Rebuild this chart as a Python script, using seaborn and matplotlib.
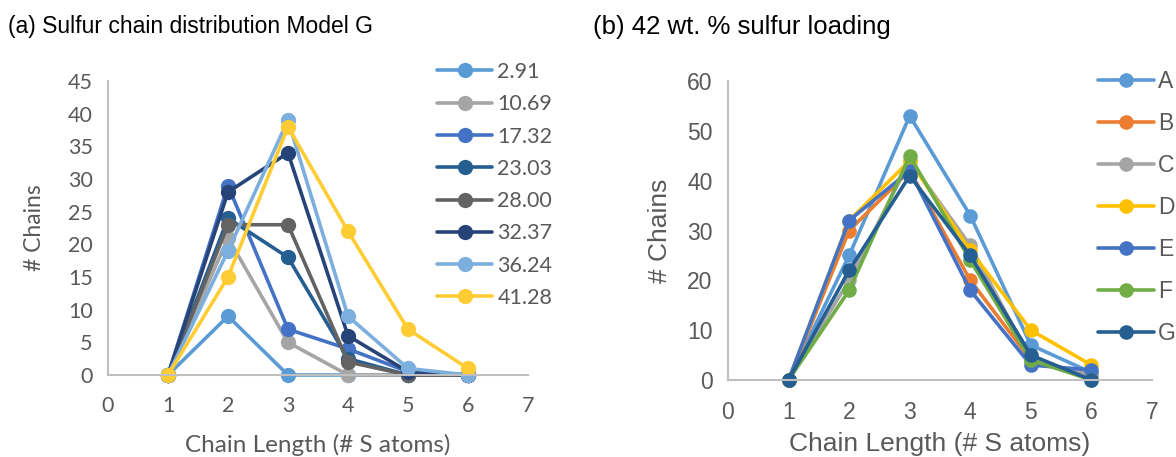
import matplotlib
matplotlib.use("Agg")
import matplotlib.pyplot as plt
import seaborn as sns
import pandas as pd

# ---------------- data ----------------
chain_length = [1, 2, 3, 4, 5, 6]

left_labels = ["2.91", "10.69", "17.32", "23.03", "28.00", "32.37", "36.24", "41.28"]
s_291 = [0, 9, 0, 0, 0, 0]
s_1069 = [0, 21, 5, 0, 0, 0]
s_1732 = [0, 29, 7, 4, 0.5, 0]
s_2303 = [0, 24, 18, 2.5, 0, 0]
s_2800 = [0, 23, 23, 2, 0, 0]
s_3237 = [0, 28, 34, 6, 0.5, 0]
s_3624 = [0, 19, 39, 9, 1, 0]
s_4128 = [0, 15, 38, 22, 7, 1]
left_values = [s_291, s_1069, s_1732, s_2303, s_2800, s_3237, s_3624, s_4128]
left_colors = ["#5B9BD5", "#A5A5A5", "#4472C4", "#255E91", "#636363",
               "#264478", "#7CAFDD", "#FFCD33"]

right_labels = ["A", "B", "C", "D", "E", "F", "G"]
m_A = [0, 25, 53, 33, 7, 1.5]
m_B = [0, 30, 42, 20, 4, 1]
m_C = [0, 20, 44, 27, 4, 1]
m_D = [0, 32, 44, 26, 10, 3]
m_E = [0, 32, 42, 18, 3, 2]
m_F = [0, 18, 45, 24, 4, 0]
m_G = [0, 22, 41, 25, 5, 0]
right_values = [m_A, m_B, m_C, m_D, m_E, m_F, m_G]
right_colors = ["#5B9BD5", "#ED7D31", "#A5A5A5", "#FFC000", "#4472C4", "#70AD47", "#255E91"]


def long_df(labels, values):
    rows = []
    for lab, vals in zip(labels, values):
        for x, y in zip(chain_length, vals):
            rows.append({"Chain": x, "Count": y, "Series": lab})
    return pd.DataFrame(rows)


df_left = long_df(left_labels, left_values)
df_right = long_df(right_labels, right_values)

sns.set_theme(style="white")
W, H = 1176, 457
fig = plt.figure(figsize=(W / 100, H / 100), dpi=100)


def px_axes(x0, y_top, x1, y_bot):
    return fig.add_axes([x0 / W, (H - y_bot) / H, (x1 - x0) / W, (y_bot - y_top) / H])


axL = px_axes(108, 81, 528, 375)
axR = px_axes(728, 81, 1152, 380)

tick_col = "#595959"
spine_col = "#BFBFBF"

configs = [
    (axL, df_left, left_labels, left_colors, 45, 5, "Lato", 15.5, 17.5, 16.5,
     -0.238, -0.174, 11),
    (axR, df_right, right_labels, right_colors, 60, 10, "Liberation Sans", 16.5, 19, 19,
     -0.215, -0.160, 10.5),
]

for (ax, df, labels, colors, ymax, ystep, fam, tfs, xlfs, ylfs,
     xly, ylx, ms) in configs:
    sns.lineplot(data=df, x="Chain", y="Count", hue="Series", hue_order=labels,
                 palette=colors, marker="o", markersize=ms, markeredgewidth=0,
                 linewidth=2.6, estimator=None, sort=False, ax=ax, legend=True)
    for ln in ax.get_lines():
        ln.set_clip_on(False)
    ax.set_xlim(0, 7)
    ax.set_ylim(0, ymax)
    ax.set_xticks(range(0, 8))
    ax.set_yticks(range(0, ymax + 1, ystep))
    for s in ["top", "right"]:
        ax.spines[s].set_visible(False)
    for s in ["left", "bottom"]:
        ax.spines[s].set_color(spine_col)
        ax.spines[s].set_linewidth(1.5)
    ax.tick_params(axis="both", direction="out", length=5, width=1.2, color=spine_col,
                   labelcolor=tick_col, labelsize=tfs, pad=6)
    ax.tick_params(axis="x", pad=10)
    for t in ax.get_xticklabels() + ax.get_yticklabels():
        t.set_fontfamily(fam)
    ax.set_xlabel("Chain Length (# S atoms)")
    ax.set_ylabel("# Chains")
    for lab, size in [(ax.xaxis.label, xlfs), (ax.yaxis.label, ylfs)]:
        lab.set_fontfamily(fam)
        lab.set_fontsize(size)
        lab.set_color(tick_col)
        lab.set_va("center")
    ax.xaxis.set_label_coords(0.5, xly)
    ax.yaxis.set_label_coords(ylx, 0.5)
    ax.get_legend().remove()

# legends
hL, lL = axL.get_legend_handles_labels()
fig.legend(hL, lL, loc="upper left", bbox_to_anchor=(437 / W, 1 - 62 / H),
           frameon=False, prop={"family": "Lato", "size": 15.5},
           labelcolor=tick_col, handlelength=2.56, handletextpad=0.24,
           labelspacing=0.57, borderpad=0, borderaxespad=0)
hR, lR = axR.get_legend_handles_labels()
fig.legend(hR, lR, loc="upper left", bbox_to_anchor=(1098 / W, 1 - 70 / H),
           frameon=False, prop={"family": "Liberation Sans", "size": 16.5},
           labelcolor=tick_col, handlelength=2.45, handletextpad=0.18,
           labelspacing=0.83, borderpad=0, borderaxespad=0)

fig.text(8 / W, 1 - 27 / H, "(a) Sulfur chain distribution Model G", fontsize=16.5,
         fontfamily="Liberation Sans", color="black", va="center", ha="left")
fig.text(593 / W, 1 - 27 / H, "(b) 42 wt. % sulfur loading", fontsize=18.5,
         fontfamily="Liberation Sans", color="black", va="center", ha="left")

fig.savefig("out.png", dpi=100)
